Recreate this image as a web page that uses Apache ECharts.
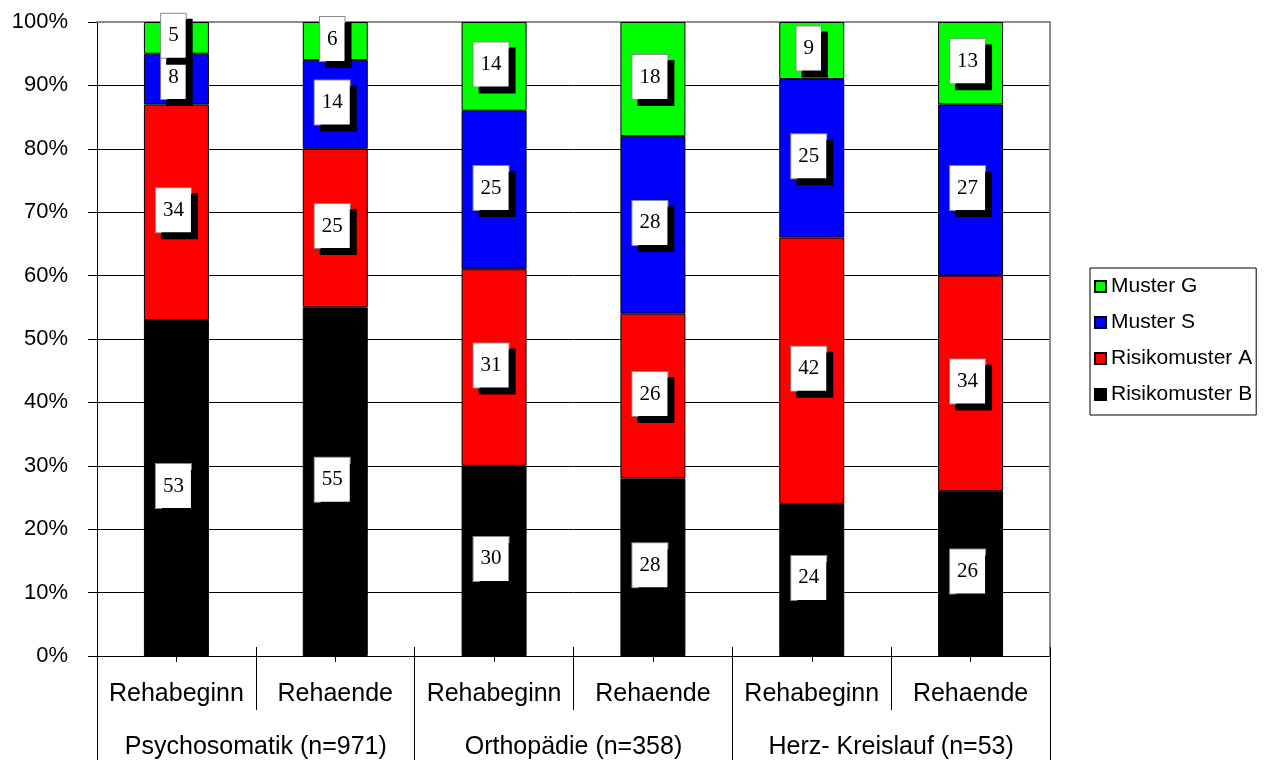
<!DOCTYPE html>
<html>
<head>
<meta charset="utf-8">
<script src="https://cdn.jsdelivr.net/npm/echarts@6/dist/echarts.min.js"></script>
<style>
  html, body { margin: 0; padding: 0; background: #fff; }
  #chart { width: 1266px; height: 760px; }
</style>
</head>
<body>
<div id="chart"></div>
<script>
// Phases per clinic group (inner category row)
const phases = ['Rehabeginn', 'Rehaende', 'Rehabeginn', 'Rehaende', 'Rehabeginn', 'Rehaende'];
// Clinic groups (outer category row)
const groups = ['Psychosomatik (n=971)', 'Orthopädie (n=358)', 'Herz- Kreislauf (n=53)'];
// Percent of patients per pattern
const risikoB = [53, 55, 30, 28, 24, 26];
const risikoA = [34, 25, 31, 26, 42, 34];
const musterS = [8, 14, 25, 28, 25, 27];
const musterG = [5, 6, 14, 18, 9, 13];
const yTicks = [0, 10, 20, 30, 40, 50, 60, 70, 80, 90, 100];

const seriesDefs = [
  { name: 'Risikomuster B', data: risikoB, color: '#000000' },
  { name: 'Risikomuster A', data: risikoA, color: '#ff0000' },
  { name: 'Muster S', data: musterS, color: '#0000ff' },
  { name: 'Muster G', data: musterG, color: '#00ff00' }
];

const sans = 'Arial, "Liberation Sans", sans-serif';
const serif = '"Times New Roman", "Liberation Serif", serif';

const chart = echarts.init(document.getElementById('chart'), null, { renderer: 'canvas' });

const option = {
  animation: false,
  backgroundColor: '#ffffff',
  grid: { left: 97, right: 216, top: 22, bottom: 104, containLabel: false },
  legend: {
    orient: 'vertical',
    left: 1090,
    top: 268,
    padding: [8, 4, 10, 4],
    itemGap: 15,
    itemWidth: 11,
    itemHeight: 11,
    icon: 'rect',
    borderColor: '#000',
    borderWidth: 1,
    borderRadius: 0,
    textStyle: { fontFamily: sans, fontSize: 21, color: '#000', lineHeight: 20 },
    data: ['Muster G', 'Muster S', 'Risikomuster A', 'Risikomuster B']
  },
  xAxis: [
    {
      // phase labels, centre ticks
      type: 'category', data: phases, position: 'bottom',
      axisLine: { show: true, lineStyle: { color: '#000', width: 1 } },
      axisTick: { show: true, alignWithLabel: true, length: 6, lineStyle: { color: '#000' } },
      axisLabel: { interval: 0, fontFamily: sans, fontSize: 25, color: '#000', margin: 26 },
      splitLine: { show: false }
    },
    {
      // short boundary marks above the axis line
      type: 'category', data: phases, position: 'bottom',
      axisLine: { show: false },
      axisTick: { show: true, interval: 0, inside: true, length: 9, lineStyle: { color: '#000' } },
      axisLabel: { show: false }
    },
    {
      // boundary lines between phases below the axis
      type: 'category', data: phases, position: 'bottom',
      axisLine: { show: false },
      axisTick: { show: true, interval: 0, length: 54, lineStyle: { color: '#000' } },
      axisLabel: { show: false }
    },
    {
      // clinic groups
      type: 'category', data: groups, position: 'bottom',
      axisLine: { show: false },
      axisTick: { show: true, interval: 0, length: 104, lineStyle: { color: '#000' } },
      axisLabel: { interval: 0, fontFamily: sans, fontSize: 25, color: '#000', margin: 79 }
    },
    {
      // top frame
      type: 'category', data: phases, position: 'top',
      axisLine: { show: true, lineStyle: { color: '#8c8c8c', width: 2 } },
      axisTick: { show: false },
      axisLabel: { show: false }
    }
  ],
  yAxis: [
    {
      type: 'value', min: 0, max: 100, interval: 10,
      axisLine: { show: true, lineStyle: { color: '#000', width: 1 } },
      axisTick: { show: true, length: 9, lineStyle: { color: '#000' } },
      axisLabel: {
        fontFamily: sans, fontSize: 22, color: '#000', margin: 29,
        formatter: v => yTicks.includes(v) ? v + '%' : ''
      },
      splitLine: { show: true, lineStyle: { color: '#000', width: 1 } }
    },
    {
      // right frame
      type: 'value', min: 0, max: 100, interval: 10, position: 'right',
      axisLine: { show: true, lineStyle: { color: '#8c8c8c', width: 2 } },
      axisTick: { show: false },
      axisLabel: { show: false },
      splitLine: { show: false }
    }
  ],
  series: seriesDefs.map(s => ({
    name: s.name,
    type: 'bar',
    stack: 'total',
    xAxisIndex: 0,
    yAxisIndex: 0,
    barWidth: 65,
    data: s.data,
    itemStyle: { color: s.color, borderColor: '#000', borderWidth: 1 },
    label: {
      show: true,
      position: 'inside',
      offset: [-3, -2],
      fontFamily: serif,
      fontSize: 21,
      color: '#000',
      backgroundColor: '#fff',
      borderColor: '#8a8a8a',
      borderWidth: 1,
      padding: [12, 7, 11, 7],
      shadowColor: '#000',
      shadowBlur: 0,
      shadowOffsetX: 6,
      shadowOffsetY: 6
    },
    emphasis: { disabled: true }
  }))
};

chart.setOption(option);
</script>
</body>
</html>
